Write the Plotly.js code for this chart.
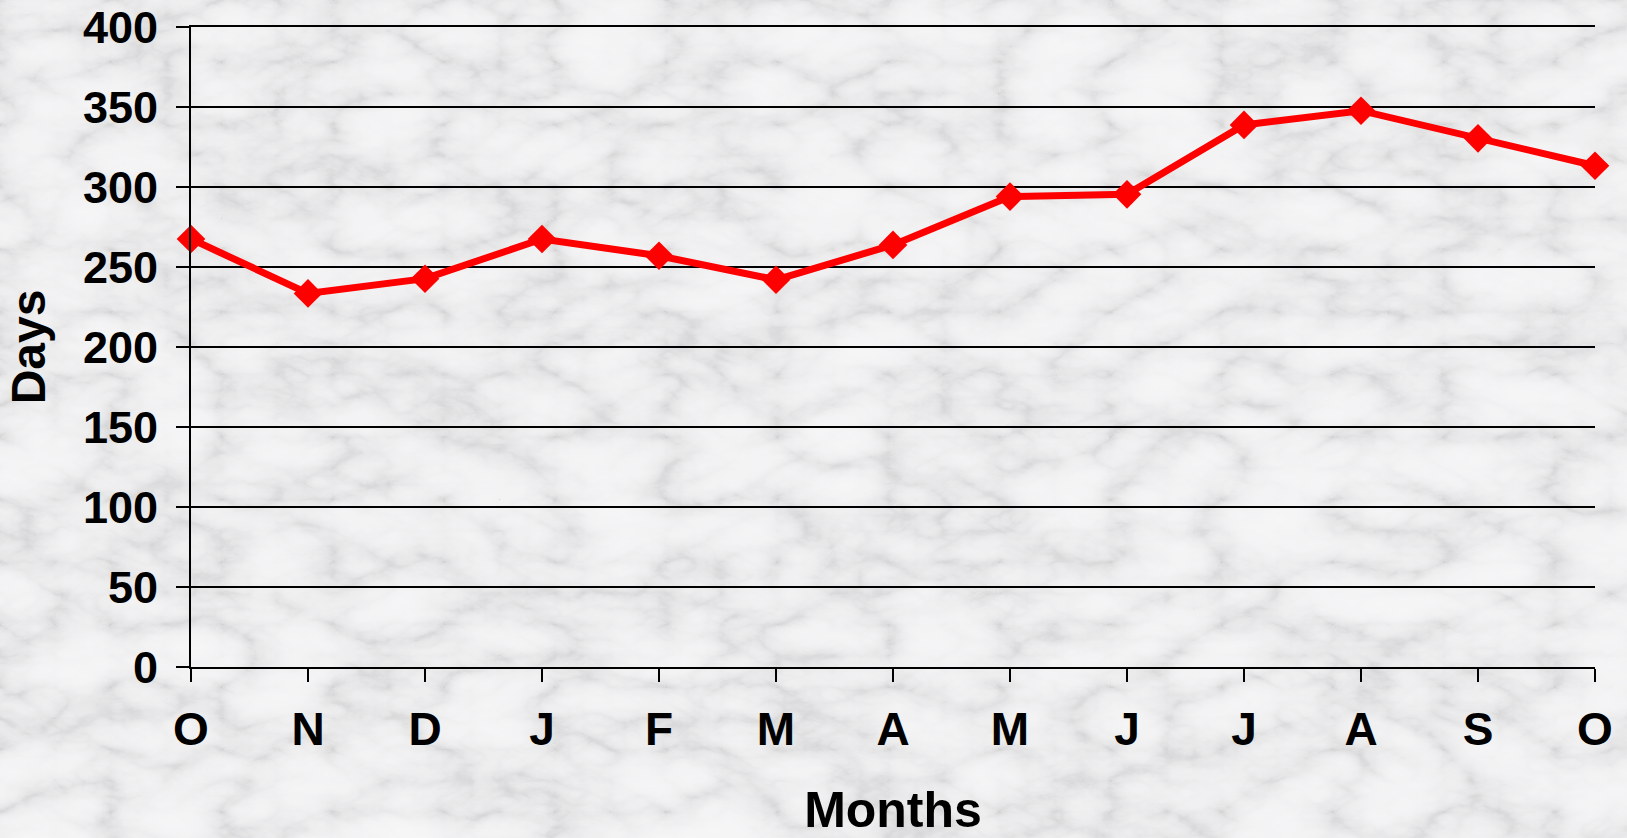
<!DOCTYPE html>
<html>
<head>
<meta charset="utf-8">
<script src="https://cdn.plot.ly/plotly-3.0.1.min.js"></script>
<style>
html, body { margin: 0; padding: 0; width: 1627px; height: 838px; overflow: hidden; }
body {
  background-color: #e8e8ea;
  background-image: url("data:image/svg+xml;utf8,<svg xmlns='http://www.w3.org/2000/svg' width='1627' height='838'><filter id='f' x='0' y='0' width='100%' height='100%'><feTurbulence type='turbulence' baseFrequency='0.009 0.016' numOctaves='5' seed='7'/><feColorMatrix type='matrix' values='1 0 0 0 0  1 0 0 0 0  1 0 0 0 0  0 0 0 0 1'/><feComponentTransfer><feFuncR type='table' tableValues='0.66 0.79 0.86 0.895 0.91 0.92 0.925'/><feFuncG type='table' tableValues='0.66 0.79 0.86 0.895 0.91 0.92 0.925'/><feFuncB type='table' tableValues='0.67 0.80 0.87 0.905 0.92 0.93 0.935'/></feComponentTransfer></filter><rect width='100%' height='100%' filter='url(%23f)'/></svg>");
}
#chart { width: 1627px; height: 838px; }
</style>
</head>
<body>
<div id="chart"></div>
<script>
// Data
const monthLabels = ["O", "N", "D", "J", "F", "M", "A", "M", "J", "J", "A", "S", "O"];
const days = [267.5, 233.5, 242.7, 267.5, 257, 242, 263.8, 294, 295.4, 338.8, 347.7, 330.4, 313.3];
const yTicks = [0, 50, 100, 150, 200, 250, 300, 350, 400];

const xIdx = monthLabels.map((_, i) => i);
const fontFam = '"Liberation Sans", Arial, Helvetica, sans-serif';

const trace = {
  type: 'scatter',
  mode: 'lines+markers',
  x: xIdx,
  y: days,
  line: { color: '#ff0000', width: 7 },
  marker: { symbol: 'diamond', size: 22, color: '#ff0000' },
  cliponaxis: false,
  hoverinfo: 'skip'
};

const layout = {
  width: 1627,
  height: 838,
  margin: { l: 191, r: 32, t: 27, b: 171 },
  paper_bgcolor: 'rgba(0,0,0,0)',
  plot_bgcolor: 'rgba(0,0,0,0)',
  showlegend: false,
  font: { family: fontFam, color: '#000000' },
  xaxis: {
    range: [0, 12],
    tickvals: xIdx,
    ticktext: monthLabels,
    showgrid: false,
    zeroline: false,
    showline: true,
    mirror: true,
    linecolor: '#000000',
    linewidth: 2,
    ticks: 'outside',
    ticklen: 13,
    tickwidth: 2,
    tickcolor: '#000000',
    ticklabelstandoff: 8,
    tickfont: { family: fontFam, size: 46, weight: 700, color: '#000000' },
    title: {
      text: 'Months',
      font: { family: fontFam, size: 50, weight: 700, color: '#000000' },
      standoff: 40
    },
    automargin: false,
    fixedrange: true
  },
  yaxis: {
    range: [0, 400],
    tickvals: yTicks,
    ticktext: yTicks.map(String),
    showgrid: true,
    gridcolor: '#000000',
    gridwidth: 2,
    zeroline: false,
    showline: true,
    linecolor: '#000000',
    linewidth: 2,
    ticks: 'outside',
    ticklen: 13,
    tickwidth: 2,
    tickcolor: '#000000',
    ticklabelstandoff: 9,
    tickfont: { family: fontFam, size: 45, weight: 700, color: '#000000' },
    title: {
      text: 'Days',
      font: { family: fontFam, size: 48, weight: 700, color: '#000000' },
      standoff: 22
    },
    automargin: false,
    fixedrange: true
  }
};

Plotly.newPlot('chart', [trace], layout, { displayModeBar: false, staticPlot: true });
</script>
</body>
</html>
